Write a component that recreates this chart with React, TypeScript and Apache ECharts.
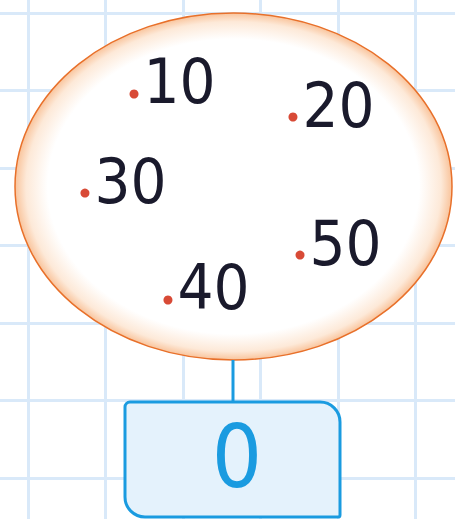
import React, { useEffect, useRef } from "react";
import * as echarts from "echarts";

const labels = ["10", "20", "30", "40", "50"];
// positions in grid-cell units (x right, y down)
const posX = [2.368, 4.419, 1.735, 2.806, 4.51];
const posY = [2.045, 2.342, 3.323, 4.703, 4.123];
const totalLabel = "0";

export default function App() {
  const ref = useRef<HTMLDivElement>(null);
  useEffect(() => {
    document.body.style.margin = "0";
    const chart = echarts.init(ref.current!, undefined, { renderer: "svg" });
    const data = labels.map((l, i) => ({ value: [posX[i], posY[i]], name: l }));
    chart.setOption({
      animation: false,
      backgroundColor: "#ffffff",
      grid: { left: -49.5, right: -38, top: -64.5, bottom: -36.5, containLabel: false, outerBoundsMode: "none" },
      xAxis: {
        type: "value", min: 0, max: 7, interval: 1,
        axisLine: { show: false }, axisTick: { show: false }, axisLabel: { show: false },
        splitLine: { show: true, lineStyle: { color: "#d9e9f9", width: 3 } },
      },
      yAxis: {
        type: "value", min: 0, max: 8, interval: 1, inverse: true,
        axisLine: { show: false }, axisTick: { show: false }, axisLabel: { show: false },
        splitLine: { show: true, lineStyle: { color: "#d9e9f9", width: 3 } },
      },
      graphic: [
        {
          type: "ellipse", z: 1,
          shape: { cx: 233.5, cy: 186.5, rx: 218.5, ry: 173.5 },
          style: {
            fill: new echarts.graphic.RadialGradient(0.5, 0.5, 0.5, [
              { offset: 0, color: "#ffffff" },
              { offset: 0.85, color: "#ffffff" },
              { offset: 0.95, color: "#fde9d8" },
              { offset: 1, color: "#f9c49c" },
            ]),
            stroke: "#e8702a", lineWidth: 1.5,
          },
        },
        {
          type: "line", z: 1,
          shape: { x1: 233, y1: 360, x2: 233, y2: 403 },
          style: { stroke: "#1a9be0", lineWidth: 3 },
        },
        {
          type: "rect", z: 1,
          shape: { x: 125, y: 402, width: 215, height: 115, r: [5, 20, 2, 20] },
          style: { fill: "#e4f2fc", stroke: "#1a9be0", lineWidth: 3 },
        },
        {
          type: "text", z: 2,
          x: 237, y: 456,
          style: {
            text: totalLabel, fill: "#1a9be0", font: "88px 'DejaVu Sans Condensed', sans-serif",
            align: "center", verticalAlign: "middle",
          },
        },
      ],
      series: [
        {
          type: "scatter", z: 3,
          symbol: "circle", symbolSize: 9,
          itemStyle: { color: "#d84a36", opacity: 1 },
          data,
          label: {
            show: true, position: "right", distance: 4, offset: [1, -12],
            formatter: (p: any) => p.name,
            fontFamily: "'DejaVu Sans Condensed', sans-serif",
            fontSize: 63, color: "#1a1a2c",
          },
        },
      ],
    });
    return () => chart.dispose();
  }, []);
  return <div ref={ref} style={{ width: 455, height: 519 }} />;
}
